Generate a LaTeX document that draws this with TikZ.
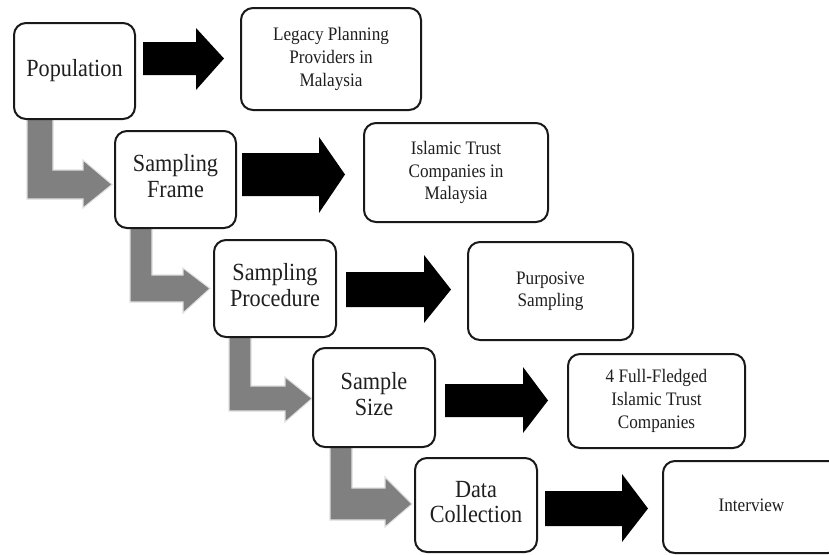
\documentclass[tikz,border=0pt]{standalone}
\usepackage{fontspec}
\usepackage{graphicx}
\setmainfont{Liberation Serif}
\begin{document}
\begin{tikzpicture}[x=0.75pt,y=-0.75pt,
  box/.style={draw=black!90, line width=1.5pt, rounded corners=9pt, fill=white, inner sep=0pt, align=center, text=black!88},
  big/.style={box, font=\fontsize{18.5}{19}\selectfont},
  small/.style={box, font=\fontsize{14.3}{17}\selectfont},
  blk/.style={fill=black, draw=none},
  gry/.style={fill=black!50, draw=black!12, line width=0.8pt}]
\useasboundingbox (0,0) rectangle (829,554);
\clip (0,0) rectangle (829,554);
\fill[white] (0,0) rectangle (829,554);
\newcommand\bx[7]{\node[#7, minimum width={(#4-#2)*0.75pt}, minimum height={(#5-#3)*0.75pt}] (#1) at ({(#2+#4)/2},{(#3+#5)/2}) {\raisebox{-1pt}{\scalebox{0.9}[1]{\begin{tabular}{@{}c@{}}#6\end{tabular}}}};}
% black block arrow: x0, xhead, xtip, shaft y0, shaft y1, head y0, head y1
\newcommand\barrow[7]{\fill[blk] (#1,#4) -- (#2,#4) -- (#2,#6) -- (#3,{(#4+#5)/2}) -- (#2,#7) -- (#2,#5) -- (#1,#5) -- cycle;}
% gray L arrow: vx0, vx1, top, shaft y0, shaft y1, xhead, xtip, head y0, head y1
\newcommand\larrow[9]{\filldraw[gry] (#1,#3) -- (#2,#3) -- (#2,#4) -- (#6,#4) -- (#6,#8) -- (#7,{(#4+#5)/2}) -- (#6,#9) -- (#6,#5) -- (#1,#5) -- cycle;}
% gray L arrows
\larrow{27}{53}{119}{170}{199}{83}{112}{160}{208}
\larrow{130}{152}{228}{275}{302}{183}{210}{268}{313}
\larrow{229}{251}{337}{386}{411}{285}{312}{377}{422}
\larrow{330}{352}{447}{488}{520}{385}{412}{477}{527}
% boxes
\bx{pop}{14}{23}{135}{119}{Population}{big}
\bx{legacy}{241}{8}{421}{110}{Legacy Planning\\Providers in\\Malaysia}{small}
\bx{frame}{115}{131}{236}{228}{Sampling\\Frame}{big}
\bx{islamic}{364}{123}{548}{222}{Islamic Trust\\Companies in\\Malaysia}{small}
\bx{proc}{214}{240}{336}{337}{Sampling\\Procedure}{big}
\bx{purp}{468}{242}{633}{340}{Purposive\\Sampling}{small}
\bx{size}{313}{348}{435}{447}{Sample\\Size}{big}
\bx{full}{568}{354}{745}{448}{4 Full-Fledged\\Islamic Trust\\Companies}{small}
\bx{data}{415}{458}{537}{552}{Data\\Collection}{big}
\bx{interview}{663}{461}{840}{553}{Interview}{small}
% black arrows
\barrow{143}{196}{224}{42}{75}{28}{90}
\barrow{242}{319}{345}{153}{196}{137}{213}
\barrow{346}{424}{451}{272}{307}{255}{323}
\barrow{445}{523}{548}{384}{417}{367}{433}
\barrow{545}{622}{648}{491}{526}{474}{542}
\end{tikzpicture}
\end{document}
